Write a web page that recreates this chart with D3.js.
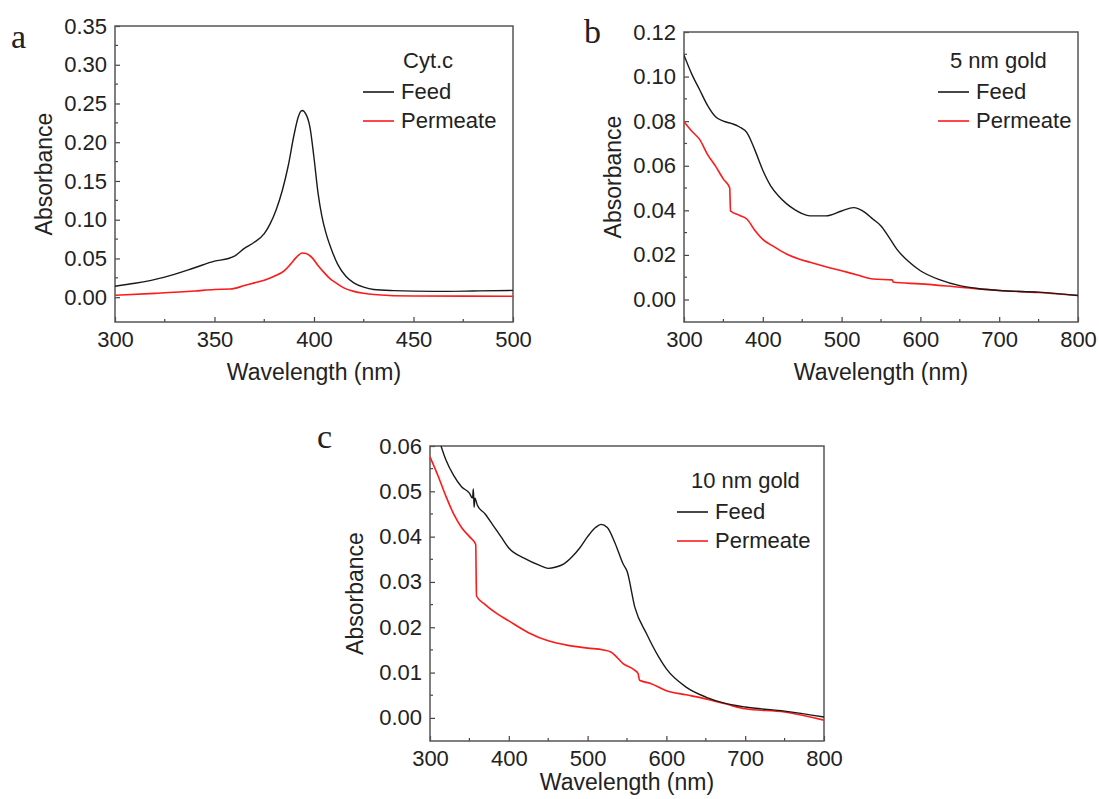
<!DOCTYPE html>
<html>
<head>
<meta charset="utf-8">
<script src="https://cdn.jsdelivr.net/npm/d3@7"></script>
<style>
  body { margin: 0; background: #fff; }
  text { font-family: Arial, "Liberation Sans", sans-serif; fill: #222; }
</style>
</head>
<body>
<svg id="chart" width="1099" height="799"></svg>
<script>
// spectra: [wavelength nm, absorbance]

var cytFeed = [[300,0.0142],[310,0.018],[325,0.026],[340,0.038],[350,0.0465],[357,0.050],[360,0.053],[365,0.063],[370,0.071],[375,0.082],[378,0.095],[381,0.113],[384,0.137],[387,0.169],[390,0.21],[392,0.232],[394,0.241],[396,0.236],[398,0.219],[400,0.18],[402,0.135],[404,0.104],[406,0.083],[409,0.060],[412,0.042],[416,0.027],[420,0.0185],[425,0.013],[430,0.010],[440,0.0085],[460,0.0075],[480,0.008],[500,0.0088]];
var cytPerm = [[300,0.0026],[320,0.005],[340,0.008],[350,0.010],[358,0.0105],[365,0.015],[370,0.0185],[375,0.022],[380,0.027],[385,0.034],[388,0.042],[391,0.051],[394,0.057],[396,0.0565],[399,0.051],[402,0.041],[405,0.032],[408,0.024],[411,0.0185],[415,0.012],[420,0.0075],[425,0.005],[430,0.0035],[450,0.0015],[500,0.0013]];

var au5Feed = [[300,0.1096],[310,0.101],[320,0.094],[330,0.087],[340,0.082],[350,0.080],[360,0.079],[370,0.0775],[380,0.0747],[390,0.067],[400,0.058],[410,0.051],[420,0.0464],[430,0.043],[440,0.0404],[450,0.0385],[460,0.0375],[480,0.0375],[500,0.0397],[515,0.0412],[530,0.039],[540,0.036],[550,0.033],[560,0.028],[570,0.0226],[585,0.017],[600,0.0129],[625,0.0088],[650,0.0062],[675,0.0048],[700,0.004],[750,0.0033],[800,0.0018]];
var au5Perm = [[300,0.0798],[310,0.0755],[320,0.0717],[330,0.065],[340,0.0598],[350,0.054],[358,0.050],[359,0.0397],[370,0.0378],[380,0.036],[390,0.031],[400,0.027],[415,0.0235],[430,0.0204],[445,0.0183],[460,0.0167],[480,0.0147],[500,0.0129],[520,0.011],[540,0.0092],[564,0.0088],[566,0.0077],[600,0.007],[650,0.0055],[700,0.004],[750,0.0031],[800,0.0018]];

var au10Feed = [[314,0.0600],[320,0.057],[330,0.0535],[340,0.051],[350,0.0496],[354,0.0485],[355,0.0505],[356,0.0465],[357,0.0485],[360,0.047],[370,0.045],[380,0.0425],[390,0.040],[400,0.0375],[420,0.0352],[440,0.0336],[450,0.033],[460,0.0333],[470,0.034],[480,0.0355],[490,0.0375],[500,0.040],[510,0.042],[517,0.0427],[525,0.042],[535,0.0385],[545,0.034],[550,0.0324],[560,0.0244],[575,0.0185],[590,0.0135],[600,0.0108],[625,0.0068],[650,0.0046],[675,0.0032],[700,0.0024],[750,0.0015],[800,0.0002]];
var au10Perm = [[300,0.0576],[310,0.0535],[320,0.049],[330,0.045],[340,0.042],[350,0.040],[358,0.0383],[359,0.0269],[370,0.025],[385,0.023],[400,0.0214],[425,0.0188],[450,0.017],[475,0.016],[500,0.0154],[520,0.015],[530,0.0145],[545,0.012],[560,0.0105],[564,0.0098],[566,0.0083],[580,0.0076],[600,0.006],[625,0.0051],[650,0.0042],[675,0.0031],[700,0.002],[750,0.0013],[800,-0.0005]];

var xTicksA = [300,350,400,450,500];
var yTicksA = [0.00,0.05,0.10,0.15,0.20,0.25,0.30,0.35];
var xTicksGold = [300,400,500,600,700,800];
var yTicksB = [0.00,0.02,0.04,0.06,0.08,0.10,0.12];
var yTicksC = [0.00,0.01,0.02,0.03,0.04,0.05,0.06];

var svg = d3.select('#chart');

var drawPanel = function(p){
  var g = svg.append('g').attr('transform', 'translate(' + p.left + ',' + p.top + ')');

  var x = d3.scaleLinear().domain(p.xDomain).range([0, p.w]);
  var y = d3.scaleLinear().domain(p.yDomain).range([p.h, 0]);

  var clipId = 'clip-' + p.letter;
  g.append('clipPath').attr('id', clipId)
    .append('rect').attr('width', p.w).attr('height', p.h);

  // minor ticks (inside)
  g.selectAll('.xminor').data(p.xMinor).enter().append('line')
    .attr('x1', function(d){ return x(d); }).attr('x2', function(d){ return x(d); })
    .attr('y1', p.h).attr('y2', p.h - 3)
    .attr('stroke', '#444').attr('stroke-width', 1.2);
  g.selectAll('.yminor').data(p.yMinor).enter().append('line')
    .attr('y1', function(d){ return y(d); }).attr('y2', function(d){ return y(d); })
    .attr('x1', 0).attr('x2', 3)
    .attr('stroke', '#444').attr('stroke-width', 1.2);

  var xAxis = d3.axisBottom(x).tickValues(p.xTicks).tickSizeInner(-5).tickSizeOuter(0)
    .tickPadding(9).tickFormat(d3.format('d'));
  var yAxis = d3.axisLeft(y).tickValues(p.yTicks).tickSizeInner(-5).tickSizeOuter(0)
    .tickPadding(8).tickFormat(d3.format(p.yFmt));

  var gx = g.append('g').attr('transform', 'translate(0,' + p.h + ')').call(xAxis);
  var gy = g.append('g').call(yAxis);
  [gx, gy].forEach(function(a){
    a.select('.domain').remove();
    a.selectAll('line').attr('stroke', '#444').attr('stroke-width', 1.2);
    a.selectAll('text').style('font-size', '22px').attr('fill', '#222')
      .style('font-family', 'Arial, "Liberation Sans", sans-serif');
  });

  // frame
  g.append('rect').attr('width', p.w).attr('height', p.h)
    .attr('fill', 'none').attr('stroke', '#555').attr('stroke-width', 1.5);

  var line = d3.line().curve(d3.curveMonotoneX)
    .x(function(d){ return x(d[0]); }).y(function(d){ return y(d[1]); });

  g.append('path').datum(p.perm).attr('d', line).attr('clip-path', 'url(#' + clipId + ')')
    .attr('fill', 'none').attr('stroke', '#ff1a1a').attr('stroke-width', 1.6);
  g.append('path').datum(p.feed).attr('d', line).attr('clip-path', 'url(#' + clipId + ')')
    .attr('fill', 'none').attr('stroke', '#1a1a1a').attr('stroke-width', 1.4);

  // axis titles
  g.append('text').attr('x', p.w / 2).attr('y', p.h + p.xlabDy)
    .attr('text-anchor', 'middle').style('font-size', '23px').text('Wavelength (nm)');
  g.append('text')
    .attr('transform', 'translate(' + (p.ylabX) + ',' + (p.h / 2) + ') rotate(-90)')
    .attr('text-anchor', 'middle').style('font-size', '23px').text('Absorbance');

  // legend
  var lg = g.append('g').attr('transform', 'translate(' + p.legX + ',' + p.legY + ')');
  lg.append('text').attr('x', p.titleDx).attr('y', 0).style('font-size', '22px').text(p.title);
  var items = [{name: 'Feed', color: '#1a1a1a'}, {name: 'Permeate', color: '#ff1a1a'}];
  items.forEach(function(it, i){
    var yy = 31 + i * 29;
    lg.append('line').attr('x1', 0).attr('x2', 31).attr('y1', yy - 7).attr('y2', yy - 7)
      .attr('stroke', it.color).attr('stroke-width', 1.6);
    lg.append('text').attr('x', 38).attr('y', yy).style('font-size', '22px').text(it.name);
  });

  // panel letter
  svg.append('text').attr('x', p.letterX).attr('y', p.letterY)
    .style('font-family', '"Times New Roman", "Liberation Serif", serif')
    .style('font-size', '34px').attr('fill', '#111').text(p.letter);
};

drawPanel({
  letter: 'a', letterX: 11, letterY: 48,
  left: 115, top: 26, w: 398, h: 296,
  xDomain: [300, 500], yDomain: [-0.032, 0.35],
  xTicks: xTicksA, yTicks: yTicksA, yFmt: '.2f',
  xMinor: [325, 375, 425, 475], yMinor: [0.025, 0.075, 0.125, 0.175, 0.225, 0.275, 0.325],
  feed: cytFeed, perm: cytPerm,
  ylabX: -63, xlabDy: 58, legX: 248, legY: 42, title: 'Cyt.c', titleDx: 40
});

drawPanel({
  letter: 'b', letterX: 584, letterY: 43,
  left: 684, top: 32, w: 394, h: 290,
  xDomain: [300, 800], yDomain: [-0.0101, 0.12],
  xTicks: xTicksGold, yTicks: yTicksB, yFmt: '.2f',
  xMinor: [350, 450, 550, 650, 750], yMinor: [0.01, 0.03, 0.05, 0.07, 0.09, 0.11],
  feed: au5Feed, perm: au5Perm,
  ylabX: -63, xlabDy: 58, legX: 254, legY: 36, title: '5 nm gold', titleDx: 12
});

drawPanel({
  letter: 'c', letterX: 317, letterY: 448,
  left: 430, top: 446, w: 394, h: 295,
  xDomain: [300, 800], yDomain: [-0.0051, 0.06],
  xTicks: xTicksGold, yTicks: yTicksC, yFmt: '.2f',
  xMinor: [350, 450, 550, 650, 750], yMinor: [0.005, 0.015, 0.025, 0.035, 0.045, 0.055],
  feed: au10Feed, perm: au10Perm,
  ylabX: -67, xlabDy: 49, legX: 247, legY: 42, title: '10 nm gold', titleDx: 14
});
</script>
</body>
</html>
